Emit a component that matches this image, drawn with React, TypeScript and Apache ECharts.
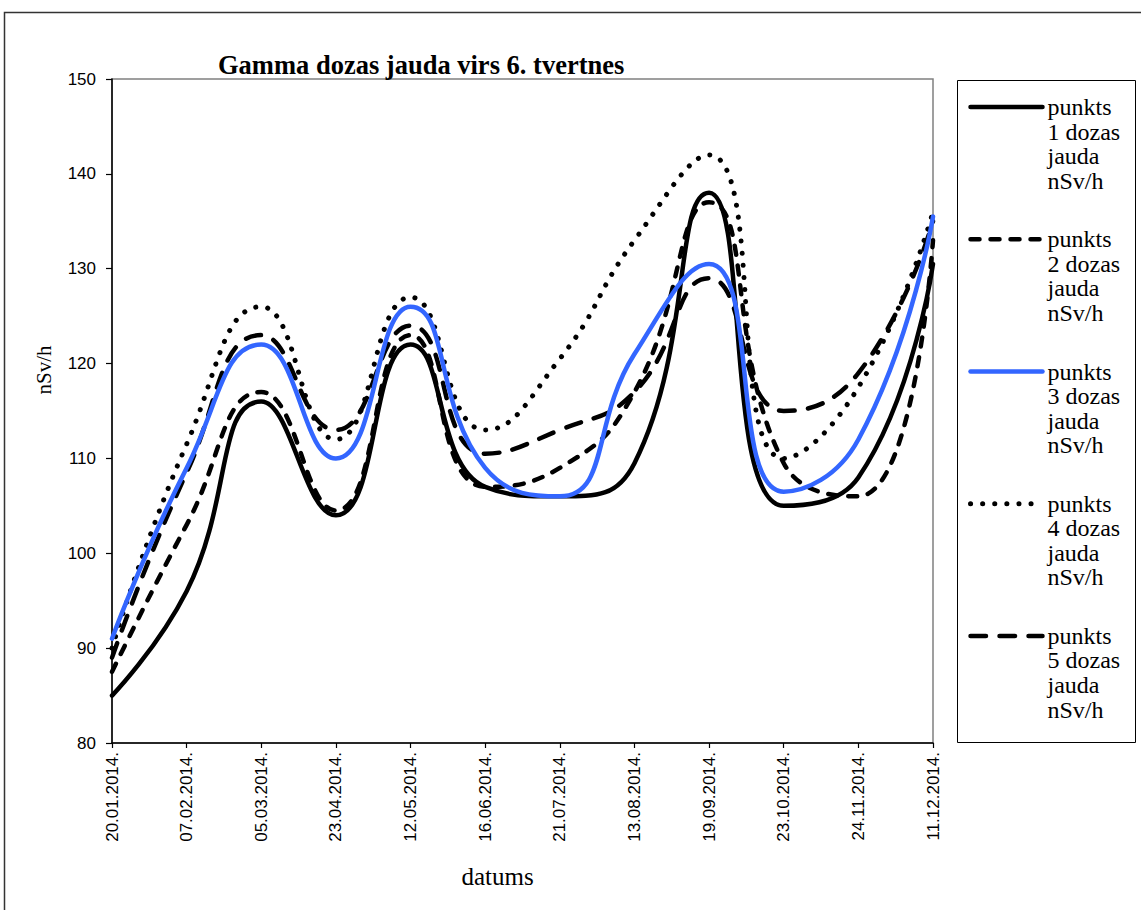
import React, { useEffect, useRef } from 'react';
import * as echarts from 'echarts';

const dates = ['20.01.2014.', '07.02.2014.', '05.03.2014.', '23.04.2014.', '12.05.2014.', '16.06.2014.', '21.07.2014.', '13.08.2014.', '19.09.2014.', '23.10.2014.', '24.11.2014.', '11.12.2014.'];

const names = [
  'punkts 1 dozas jauda nSv/h',
  'punkts 2 dozas jauda nSv/h',
  'punkts 3 dozas jauda nSv/h',
  'punkts 4 dozas jauda nSv/h',
  'punkts 5 dozas jauda nSv/h',
];

const p1 = [85, 96, 116, 104, 122, 107, 106, 109.5, 138, 105, 108, 130.5];
const p2 = [87.5, 103, 117, 104.5, 123, 107, 109, 117, 137, 109.5, 106, 133];
const p3 = [91, 109, 122, 110, 126, 109, 106, 121, 130.5, 106.5, 112, 135.5];
const p4 = [90, 111.5, 126, 112, 127, 113, 120.5, 133, 142, 110, 117.5, 136];
const p5 = [89, 108.5, 123, 113, 124, 110.5, 113, 117, 129, 115, 119, 135];

const yMin = 80;
const yMax = 150;
const yStep = 10;

export default function App() {
  const ref = useRef<HTMLDivElement>(null);
  useEffect(() => {
    const chart = echarts.init(ref.current as HTMLDivElement, null, { renderer: 'svg' });
    const serif = 'Liberation Serif';
    const sans = 'Liberation Sans';
    const mk = (i: number, data: number[], color: string, width: number, type: any, z: number) => ({
      name: names[i],
      type: 'line',
      data,
      smooth: true,
      symbol: 'none',
      z,
      itemStyle: { color },
      lineStyle: { color, width, type, cap: 'round', join: 'round' },
    });
    chart.setOption({
      animation: false,
      backgroundColor: '#ffffff',
      title: {
        text: 'Gamma dozas jauda virs 6. tvertnes',
        left: 218,
        top: 51,
        padding: 0,
        textStyle: { fontFamily: serif, fontWeight: 'bold', fontSize: 26.5, color: '#000' },
      },
      grid: {
        left: 112,
        top: 79,
        width: 821,
        height: 664,
        show: true,
        borderColor: '#808080',
        borderWidth: 1.5,
        containLabel: false,
      },
      xAxis: {
        type: 'category',
        data: dates,
        boundaryGap: false,
        axisLine: { show: true, lineStyle: { color: '#000', width: 1.5 } },
        axisTick: { show: true, length: 5, lineStyle: { color: '#000', width: 1.2 } },
        axisLabel: { rotate: 90, fontFamily: sans, fontSize: 17, color: '#000', margin: 9, interval: 0 },
        splitLine: { show: false },
        name: 'datums',
        nameLocation: 'middle',
        nameGap: 121,
        nameTextStyle: { fontFamily: serif, fontSize: 25, color: '#000', padding: [0, 50, 0, 0] },
      },
      yAxis: {
        type: 'value',
        min: yMin,
        max: yMax,
        interval: yStep,
        axisLine: { show: true, lineStyle: { color: '#000', width: 1.5 } },
        axisTick: { show: true, length: 6, lineStyle: { color: '#000', width: 1.2 } },
        axisLabel: { fontFamily: sans, fontSize: 17, color: '#000', margin: 16 },
        splitLine: { show: false },
        name: 'nSv/h',
        nameLocation: 'middle',
        nameRotate: 90,
        nameGap: 58,
        nameTextStyle: { fontFamily: serif, fontSize: 21, color: '#000', padding: [0, 0, 0, 82] },
      },
      legend: {
        orient: 'vertical',
        left: 968,
        top: 21,
        padding: 0,
        itemWidth: 72,
        itemHeight: 1,
        itemGap: -40,
        itemStyle: { color: 'rgba(0,0,0,0)', borderColor: 'rgba(0,0,0,0)', borderWidth: 0 },
        lineStyle: { width: 'inherit' },
        textStyle: { fontFamily: serif, fontSize: 24, lineHeight: 24.6, color: '#000' },
        formatter: (name: string) => {
          const parts = name.split(' ');
          return '\n\n\n' + parts[0] + '\n' + parts[1] + ' ' + parts[2] + '\n' + parts[3] + '\n' + parts[4];
        },
        data: names,
      },
      graphic: [
        {
          type: 'rect',
          shape: { x: 4.5, y: 12.5, width: 1200, height: 960 },
          style: { fill: 'none', stroke: '#333', lineWidth: 1.5 },
          silent: true,
        },
        {
          type: 'rect',
          shape: { x: 957.5, y: 80.5, width: 178, height: 662 },
          style: { fill: 'none', stroke: '#000', lineWidth: 1 },
          silent: true,
        },
      ],
      series: [
        mk(0, p1, '#000000', 4.5, 'solid', 2),
        mk(1, p2, '#000000', 4.5, [9, 11], 3),
        mk(2, p3, '#3366ff', 4.5, 'solid', 6),
        mk(3, p4, '#000000', 5, [0.1, 12], 4),
        mk(4, p5, '#000000', 4.5, [15.5, 13.5], 5),
      ],
    });
    return () => chart.dispose();
  }, []);
  return (
    <div
      ref={ref}
      style={{ position: 'fixed', left: 0, top: 0, width: 1141, height: 910, background: '#fff' }}
    />
  );
}
